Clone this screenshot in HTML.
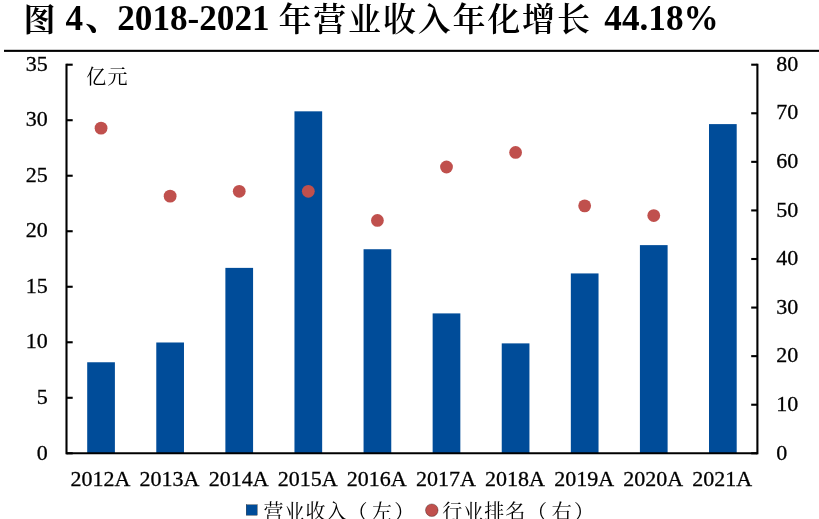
<!DOCTYPE html>
<html lang="zh-CN"><head><meta charset="utf-8"><title>图 4</title>
<style>html,body{margin:0;padding:0;background:#fff;overflow:hidden}svg{display:block}</style>
</head><body>
<svg width="819" height="519" viewBox="0 0 819 519">
<rect width="819" height="519" fill="#fff"/>
<rect x="4" y="49.8" width="815" height="2.1" fill="#000"/>
<rect x="87.20" y="362.26" width="27.7" height="91.04" fill="#004C99"/>
<rect x="156.28" y="342.49" width="27.7" height="110.81" fill="#004C99"/>
<rect x="225.38" y="267.88" width="27.7" height="185.42" fill="#004C99"/>
<rect x="294.46" y="111.33" width="27.7" height="341.97" fill="#004C99"/>
<rect x="363.56" y="249.23" width="27.7" height="204.07" fill="#004C99"/>
<rect x="432.64" y="313.40" width="27.7" height="139.90" fill="#004C99"/>
<rect x="501.74" y="343.38" width="27.7" height="109.92" fill="#004C99"/>
<rect x="570.83" y="273.43" width="27.7" height="179.87" fill="#004C99"/>
<rect x="639.91" y="245.12" width="27.7" height="208.18" fill="#004C99"/>
<rect x="709.00" y="124.10" width="27.7" height="329.20" fill="#004C99"/>
<g stroke="#000" stroke-width="2.1" fill="none">
<path d="M66.5 63.650000000000006 V454.35"/>
<path d="M757.4 63.650000000000006 V454.35"/>
<path d="M66.5 453.3 H757.4"/>
<path d="M66.5 453.30 h6.2"/>
<path d="M66.5 397.79 h6.2"/>
<path d="M66.5 342.27 h6.2"/>
<path d="M66.5 286.76 h6.2"/>
<path d="M66.5 231.24 h6.2"/>
<path d="M66.5 175.73 h6.2"/>
<path d="M66.5 120.21 h6.2"/>
<path d="M66.5 64.70 h6.2"/>
<path d="M757.4 453.30 h-6.2"/>
<path d="M757.4 404.73 h-6.2"/>
<path d="M757.4 356.15 h-6.2"/>
<path d="M757.4 307.57 h-6.2"/>
<path d="M757.4 259.00 h-6.2"/>
<path d="M757.4 210.43 h-6.2"/>
<path d="M757.4 161.85 h-6.2"/>
<path d="M757.4 113.27 h-6.2"/>
<path d="M757.4 64.70 h-6.2"/>
</g>
<circle cx="101.05" cy="128.15" r="6.4" fill="#C0504D"/>
<circle cx="170.13" cy="196.15" r="6.4" fill="#C0504D"/>
<circle cx="239.23" cy="191.30" r="6.4" fill="#C0504D"/>
<circle cx="308.31" cy="191.30" r="6.4" fill="#C0504D"/>
<circle cx="377.41" cy="220.44" r="6.4" fill="#C0504D"/>
<circle cx="446.50" cy="167.01" r="6.4" fill="#C0504D"/>
<circle cx="515.59" cy="152.44" r="6.4" fill="#C0504D"/>
<circle cx="584.68" cy="205.87" r="6.4" fill="#C0504D"/>
<circle cx="653.76" cy="215.58" r="6.4" fill="#C0504D"/>
<g font-family="'Liberation Serif', 'Noto Serif CJK SC', serif" font-size="22" fill="#000" stroke="#000" stroke-width="0.3">
<text x="47.8" y="459.50" text-anchor="end">0</text>
<text x="47.8" y="403.99" text-anchor="end">5</text>
<text x="47.8" y="348.47" text-anchor="end">10</text>
<text x="47.8" y="292.96" text-anchor="end">15</text>
<text x="47.8" y="237.44" text-anchor="end">20</text>
<text x="47.8" y="181.93" text-anchor="end">25</text>
<text x="47.8" y="126.41" text-anchor="end">30</text>
<text x="47.8" y="70.90" text-anchor="end">35</text>
<text x="776.2" y="459.50">0</text>
<text x="776.2" y="410.93">10</text>
<text x="776.2" y="362.35">20</text>
<text x="776.2" y="313.77">30</text>
<text x="776.2" y="265.20">40</text>
<text x="776.2" y="216.62">50</text>
<text x="776.2" y="168.05">60</text>
<text x="776.2" y="119.47">70</text>
<text x="776.2" y="70.90">80</text>
<text x="100.45" y="485.8" text-anchor="middle">2012A</text>
<text x="169.53" y="485.8" text-anchor="middle">2013A</text>
<text x="238.63" y="485.8" text-anchor="middle">2014A</text>
<text x="307.71" y="485.8" text-anchor="middle">2015A</text>
<text x="376.81" y="485.8" text-anchor="middle">2016A</text>
<text x="445.89" y="485.8" text-anchor="middle">2017A</text>
<text x="514.99" y="485.8" text-anchor="middle">2018A</text>
<text x="584.08" y="485.8" text-anchor="middle">2019A</text>
<text x="653.16" y="485.8" text-anchor="middle">2020A</text>
<text x="722.25" y="485.8" text-anchor="middle">2021A</text>
<text x="86.3" y="83.6" font-size="20" letter-spacing="1.3" stroke="none">亿元</text>
<rect x="246.2" y="504.8" width="11" height="10.4" fill="#004C99"/>
<text x="263.5" y="519.2" font-size="20" letter-spacing="1" stroke="none">营业收入（<tspan dx="3.5">左</tspan><tspan dx="1.2">）</tspan></text>
<circle cx="431.8" cy="510.2" r="6.3" fill="#C0504D"/>
<text x="442.3" y="519.2" font-size="20" letter-spacing="1" stroke="none">行业排名<tspan dx="0.8">（</tspan><tspan dx="3.7">右</tspan><tspan dx="1.2">）</tspan></text>
</g>
<g font-family="'Liberation Serif', 'Noto Serif CJK SC', serif" font-weight="700" font-size="35.2" fill="#000">
<text y="30.4"><tspan x="23.5" font-size="32" font-weight="700" dy="0.8">图 </tspan><tspan x="65.5" dy="-0.8">4</tspan><tspan x="85" font-size="36" font-weight="700">、</tspan><tspan x="117.2">2018-2021 </tspan><tspan x="278.5" font-size="33" font-weight="600" letter-spacing="1.8" dy="0.8">年营业收入年化增长 </tspan><tspan x="604.3" dy="-0.8">44.18%</tspan></text>
</g>
</svg>
</body></html>
